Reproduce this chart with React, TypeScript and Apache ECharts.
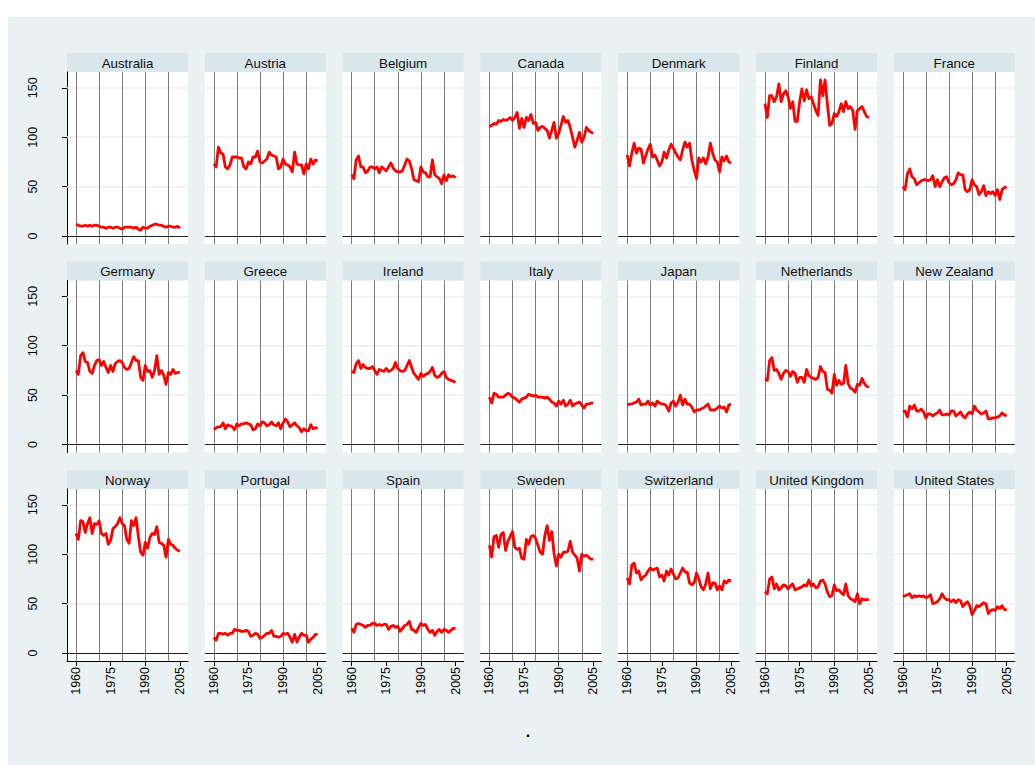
import React, { useEffect, useRef } from "react";
import * as echarts from "echarts";

const years = [
  1960, 1961, 1962, 1963, 1964, 1965, 1966, 1967, 1968, 1969,
  1970, 1971, 1972, 1973, 1974, 1975, 1976, 1977, 1978, 1979,
  1980, 1981, 1982, 1983, 1984, 1985, 1986, 1987, 1988, 1989,
  1990, 1991, 1992, 1993, 1994, 1995, 1996, 1997, 1998, 1999,
  2000, 2001, 2002, 2003, 2004, 2005,
];

const countries = [
  "Australia", "Austria", "Belgium", "Canada", "Denmark", "Finland", "France",
  "Germany", "Greece", "Ireland", "Italy", "Japan", "Netherlands", "New Zealand",
  "Norway", "Portugal", "Spain", "Sweden", "Switzerland", "United Kingdom", "United States",
];

const australia = [12, 11, 10, 10, 11, 10, 11, 10, 11, 11, 10, 9, 9, 8, 9, 9, 8, 9, 9, 8, 7, 9, 9, 9, 9, 8, 9, 7, 6, 9, 8, 8, 10, 11, 12, 12, 11, 11, 10, 9, 10, 10, 9, 9, 10, 8];
const austria = [73, 70, 90, 84, 83, 70, 68, 72, 80, 80, 80, 79, 79, 70, 68, 75, 73, 80, 80, 86, 75, 74, 76, 78, 85, 82, 81, 80, 68, 70, 78, 73, 72, 70, 65, 85, 73, 72, 72, 63, 73, 68, 78, 73, 77, 76];
const belgium = [62, 58, 77, 81, 70, 70, 64, 66, 70, 70, 68, 70, 64, 70, 68, 66, 70, 74, 69, 66, 65, 65, 66, 72, 78, 76, 68, 57, 56, 55, 70, 65, 64, 60, 60, 77, 62, 60, 58, 53, 62, 56, 62, 60, 61, 59];
const canada = [111, 112, 114, 113, 117, 116, 118, 117, 118, 120, 117, 120, 125, 109, 119, 110, 120, 117, 123, 114, 115, 107, 110, 111, 109, 107, 99, 107, 115, 99, 104, 112, 121, 115, 117, 110, 100, 90, 97, 105, 95, 100, 110, 107, 105, 104];
const denmark = [82, 71, 84, 94, 84, 89, 88, 74, 81, 88, 93, 80, 82, 77, 71, 75, 85, 79, 87, 93, 89, 84, 80, 77, 87, 95, 90, 94, 77, 67, 58, 79, 75, 79, 73, 80, 94, 84, 77, 75, 65, 80, 76, 81, 75, 74];
const finland = [134, 120, 142, 142, 136, 141, 154, 136, 144, 147, 141, 129, 136, 116, 116, 136, 149, 137, 148, 139, 141, 134, 127, 122, 158, 142, 158, 134, 112, 114, 124, 121, 126, 134, 126, 136, 129, 131, 127, 108, 127, 129, 131, 126, 121, 120];
const france = [50, 47, 63, 68, 60, 58, 52, 54, 56, 57, 57, 56, 57, 61, 50, 57, 50, 55, 59, 60, 54, 52, 53, 57, 64, 62, 62, 47, 45, 47, 57, 52, 50, 42, 45, 51, 41, 45, 43, 45, 41, 47, 37, 47, 49, 50];
const germany = [75, 71, 90, 93, 84, 83, 74, 72, 80, 85, 86, 80, 84, 78, 73, 80, 74, 82, 84, 85, 83, 78, 76, 77, 83, 89, 85, 85, 68, 65, 80, 74, 75, 68, 75, 90, 71, 75, 70, 61, 73, 71, 76, 72, 73, 73];
const greece = [15, 17, 18, 18, 22, 16, 20, 19, 18, 15, 21, 19, 21, 21, 22, 21, 20, 15, 16, 21, 19, 23, 22, 19, 20, 23, 20, 19, 22, 16, 22, 26, 23, 18, 20, 22, 19, 17, 13, 16, 14, 14, 20, 16, 17, 17];
const ireland = [74, 73, 82, 85, 77, 81, 78, 77, 77, 79, 75, 71, 76, 75, 74, 77, 74, 75, 77, 83, 77, 75, 74, 75, 80, 85, 78, 72, 69, 66, 72, 69, 71, 72, 74, 78, 70, 68, 69, 72, 74, 68, 66, 65, 64, 63];
const italy = [48, 42, 52, 51, 48, 48, 48, 50, 52, 51, 48, 47, 45, 43, 46, 47, 48, 51, 50, 49, 50, 48, 48, 48, 47, 48, 46, 43, 42, 39, 44, 41, 45, 39, 41, 45, 39, 41, 42, 43, 40, 37, 41, 41, 42, 42];
const japan = [40, 41, 41, 42, 43, 46, 40, 41, 41, 44, 40, 42, 39, 44, 42, 41, 41, 39, 34, 42, 44, 39, 43, 50, 40, 46, 41, 41, 38, 33, 35, 35, 36, 37, 39, 41, 35, 35, 35, 37, 39, 37, 38, 33, 40, 41];
const netherlands = [66, 65, 85, 88, 75, 76, 72, 66, 72, 75, 74, 69, 74, 72, 63, 68, 68, 63, 76, 70, 68, 67, 66, 68, 79, 74, 73, 56, 55, 52, 71, 60, 65, 61, 62, 80, 62, 57, 56, 53, 61, 60, 67, 62, 59, 58];
const newZealand = [33, 34, 28, 39, 36, 40, 34, 34, 36, 33, 27, 31, 31, 29, 31, 32, 35, 30, 30, 31, 30, 34, 34, 29, 31, 33, 29, 27, 31, 33, 31, 39, 35, 33, 31, 32, 34, 26, 26, 27, 27, 28, 29, 32, 30, 29];
const norway = [121, 115, 134, 133, 122, 131, 137, 121, 131, 130, 134, 121, 119, 121, 110, 114, 126, 128, 131, 137, 131, 129, 115, 111, 134, 129, 137, 118, 102, 99, 112, 106, 117, 121, 120, 128, 112, 111, 109, 97, 115, 110, 109, 106, 104, 103];
const portugal = [16, 13, 20, 20, 19, 20, 18, 20, 20, 24, 23, 23, 22, 22, 23, 22, 17, 18, 20, 19, 15, 16, 18, 20, 20, 23, 17, 17, 16, 17, 20, 19, 20, 16, 11, 19, 11, 16, 20, 18, 18, 11, 14, 16, 19, 19];
const spain = [25, 21, 29, 30, 29, 28, 26, 28, 28, 30, 30, 28, 29, 28, 29, 29, 24, 27, 28, 26, 27, 22, 25, 28, 29, 32, 24, 23, 21, 26, 30, 28, 29, 24, 21, 23, 18, 22, 24, 21, 24, 23, 21, 23, 25, 25];
const sweden = [109, 97, 118, 119, 107, 120, 122, 104, 113, 118, 123, 107, 105, 106, 96, 95, 115, 110, 118, 119, 116, 109, 102, 100, 119, 129, 114, 123, 101, 88, 100, 97, 102, 102, 103, 113, 102, 99, 96, 83, 100, 98, 99, 97, 95, 95];
const switzerland = [76, 70, 89, 91, 81, 83, 74, 77, 79, 83, 86, 84, 85, 86, 77, 79, 73, 83, 79, 85, 80, 75, 76, 81, 86, 82, 82, 71, 69, 71, 81, 75, 67, 64, 70, 81, 65, 71, 71, 64, 68, 64, 73, 71, 74, 73];
const unitedKingdom = [62, 60, 75, 77, 65, 70, 64, 66, 69, 68, 65, 68, 70, 64, 65, 66, 67, 69, 68, 74, 68, 70, 66, 67, 73, 74, 70, 62, 57, 58, 69, 63, 64, 61, 59, 70, 58, 55, 54, 52, 60, 50, 55, 54, 54, 54];
const unitedStates = [57, 58, 59, 60, 56, 58, 57, 58, 57, 58, 56, 57, 59, 50, 51, 52, 55, 60, 56, 54, 54, 52, 54, 51, 54, 53, 47, 50, 52, 48, 39, 43, 48, 47, 49, 51, 50, 40, 43, 44, 43, 47, 45, 48, 44, 44];

const seriesValues = [
  australia, austria, belgium, canada, denmark, finland, france,
  germany, greece, ireland, italy, japan, netherlands, newZealand,
  norway, portugal, spain, sweden, switzerland, unitedKingdom, unitedStates,
];

const yTicks = [0, 50, 100, 150];
const xTicks = [1960, 1975, 1990, 2005];
const decadeLines = [1960, 1970, 1980, 1990, 2000];
const hGridLines = [50, 100, 150];
const noteText = ".";

const FONT = "'Liberation Sans', Arial, Helvetica, sans-serif";
const COLS = 7;
const ROWS = 3;
const PANEL_W = 121;
const COL_STEP = 137.8;
const LEFT0 = 67;
const TITLE_TOP0 = 53;
const ROW_STEP = 208.5;
const STRIP_H = 19;
const PLOT_H = 172;

export default function App() {
  const ref = useRef<HTMLDivElement>(null);

  useEffect(() => {
    if (!ref.current) return;
    const chart = echarts.init(ref.current, null, { renderer: "svg" });

    const grids: any[] = [];
    const xAxes: any[] = [];
    const yAxes: any[] = [];
    const series: any[] = [];
    const graphics: any[] = [];

    countries.forEach((name, i) => {
      const r = Math.floor(i / COLS);
      const c = i % COLS;
      const left = LEFT0 + c * COL_STEP;
      const titleTop = TITLE_TOP0 + r * ROW_STEP;
      const top = titleTop + STRIP_H;
      const isBottom = r === ROWS - 1;
      const isLeft = c === 0;

      grids.push({
        left,
        top,
        width: PANEL_W,
        height: PLOT_H,
        show: true,
        backgroundColor: "#ffffff",
        borderWidth: 0,
      });

      xAxes.push({
        gridIndex: i,
        type: "value",
        min: 1956.1,
        max: 2008.5,
        splitLine: { show: false },
        axisLine: { show: isBottom, onZero: false, lineStyle: { color: "#000", width: 1 } },
        axisTick: { show: isBottom, customValues: xTicks, length: 5, lineStyle: { color: "#000" } },
        axisLabel: {
          show: isBottom,
          customValues: xTicks,
          formatter: (v: number) => String(v),
          rotate: 90,
          margin: 6,
          fontSize: 12.5,
          color: "#000",
          fontFamily: FONT,
        },
      });

      yAxes.push({
        gridIndex: i,
        type: "value",
        min: -8,
        max: 166,
        splitLine: { show: false },
        axisLine: { show: isLeft, onZero: false, lineStyle: { color: "#000", width: 1 } },
        axisTick: { show: isLeft, customValues: yTicks, length: 5, lineStyle: { color: "#000" } },
        axisLabel: {
          show: isLeft,
          customValues: yTicks,
          formatter: (v: number) => String(v),
          rotate: 90,
          margin: 28,
          fontSize: 12.5,
          color: "#000",
          fontFamily: FONT,
        },
      });

      series.push({
        type: "line",
        xAxisIndex: i,
        yAxisIndex: i,
        data: [],
        z: 1,
        silent: true,
        markLine: {
          silent: true,
          z: 1,
          symbol: ["none", "none"],
          label: { show: false },
          animation: false,
          data: [
            ...hGridLines.map((v) => ({ yAxis: v, lineStyle: { color: "#e8eff2", width: 1.5, type: "solid" } })),
            ...decadeLines.map((v) => ({ xAxis: v, lineStyle: { color: "#7a7a7a", width: 1, type: "solid" } })),
            { yAxis: 0, lineStyle: { color: "#222", width: 1.2, type: "solid" } },
          ],
        },
      });

      series.push({
        type: "line",
        name,
        xAxisIndex: i,
        yAxisIndex: i,
        data: years.map((y, k) => [y, seriesValues[i][k]]),
        showSymbol: false,
        symbol: "none",
        z: 6,
        silent: true,
        lineStyle: { color: "#ff0000", width: 2.8, join: "round" },
      });

      graphics.push({
        type: "rect",
        silent: true,
        shape: { x: left, y: titleTop, width: PANEL_W, height: STRIP_H },
        style: { fill: "#d9e6eb" },
      });
      graphics.push({
        type: "text",
        silent: true,
        x: left + PANEL_W / 2,
        y: titleTop + STRIP_H / 2 + 0.5,
        style: {
          text: name,
          align: "center",
          verticalAlign: "middle",
          fontSize: 13.3,
          fontFamily: FONT,
          fill: "#111",
        },
      });
    });

    graphics.push({
      type: "text",
      silent: true,
      x: 528,
      y: 731,
      style: {
        text: noteText,
        align: "center",
        verticalAlign: "middle",
        fontSize: 16,
        fontWeight: "bold",
        fontFamily: FONT,
        fill: "#000",
      },
    });

    chart.setOption({
      animation: false,
      backgroundColor: "transparent",
      grid: grids,
      xAxis: xAxes,
      yAxis: yAxes,
      series,
      graphic: graphics,
    });

    return () => {
      chart.dispose();
    };
  }, []);

  return (
    <div style={{ position: "absolute", left: 0, top: 0, width: 1035, height: 765, background: "#ffffff" }}>
      <div style={{ position: "absolute", left: 8, top: 17, right: 0, bottom: 0, background: "#eaf1f3" }} />
      <div ref={ref} style={{ position: "absolute", left: 0, top: 0, width: 1035, height: 765 }} />
    </div>
  );
}
